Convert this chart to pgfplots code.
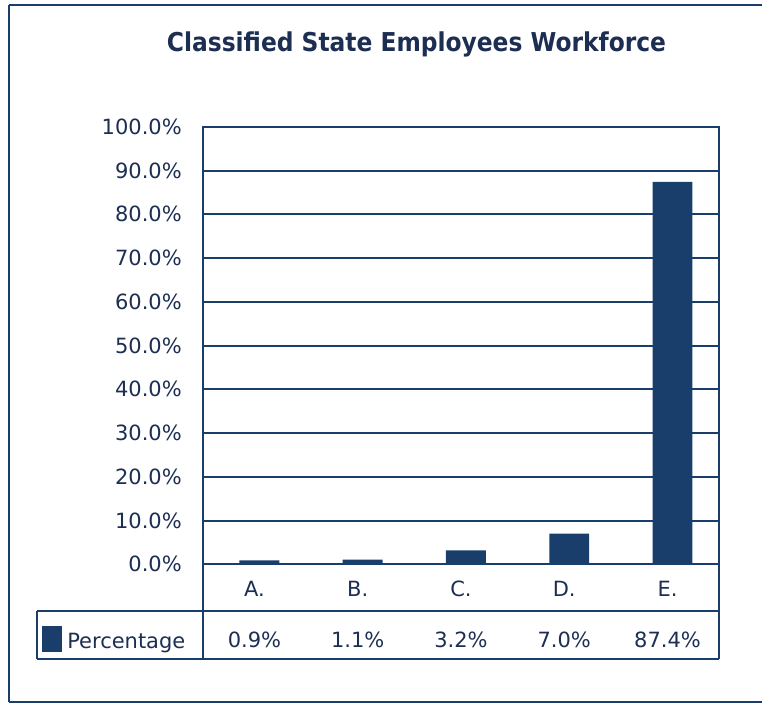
\documentclass[border=0pt]{standalone}
\usepackage{fontspec}
\setmainfont{DejaVu Sans}
\newfontfamily\titlefont{DejaVu Sans Condensed}
\usepackage{pgfplots}
\pgfplotsset{compat=1.18}
\definecolor{navy}{RGB}{26,62,108}
\definecolor{txt}{RGB}{28,46,82}
\begin{document}
\begin{tikzpicture}
\begin{axis}[
  scale only axis, width=258.5pt, height=219pt,
  xmin=-0.5, xmax=4.5, ymin=0, ymax=100,
  ytick={0,10,...,100},
  /pgf/number format/assume math mode=true,
  yticklabel={\pgfmathprintnumber[fixed,fixed zerofill,precision=1]{\tick}\%},
  ymajorgrids, grid style={navy, line width=1pt},
  axis line style={navy, line width=1pt},
  major tick length=0pt,
  xtick={0,1,2,3,4}, xticklabels={A.,B.,C.,D.,E.},
  ticklabel style={font=\fontsize{10.5}{12}\selectfont, text=txt},
  xticklabel style={anchor=base, yshift=-16pt},
  yticklabel style={xshift=-7pt},
  ybar, bar width=20pt, bar shift=2.5pt,
  clip=false,
]
\addplot[fill=navy, draw=none] coordinates {(0,0.9) (1,1.1) (2,3.2) (3,7.0) (4,87.4)};
\coordinate (SW) at (rel axis cs:0,0);
\coordinate (NE) at (rel axis cs:1,1);
\coordinate (SE) at (rel axis cs:1,0);
\coordinate (NW) at (rel axis cs:0,1);
\begin{scope}[font=\fontsize{10.5}{12}\selectfont, text=txt]
\node[anchor=base] at ([yshift=-41.5pt]axis cs:0,0) {0.9\%};
\node[anchor=base] at ([yshift=-41.5pt]axis cs:1,0) {1.1\%};
\node[anchor=base] at ([yshift=-41.5pt]axis cs:2,0) {3.2\%};
\node[anchor=base] at ([yshift=-41.5pt]axis cs:3,0) {7.0\%};
\node[anchor=base] at ([yshift=-41.5pt]axis cs:4,0) {87.4\%};
\end{scope}
\end{axis}
% table lines
\draw[navy, line width=1pt] (SW) -- ([yshift=-47.5pt]SW);
\draw[navy, line width=1pt] (SE) -- ([yshift=-47.5pt]SE);
\draw[navy, line width=1pt] ([xshift=-83pt,yshift=-23.5pt]SW) -- ([yshift=-23.5pt]SE);
\draw[navy, line width=1pt] ([xshift=-83pt,yshift=-47.5pt]SW) -- ([yshift=-47.5pt]SE);
\draw[navy, line width=1pt] ([xshift=-83pt,yshift=-23.5pt]SW) -- ([xshift=-83pt,yshift=-47.5pt]SW);
% legend key
\fill[navy] ([xshift=-80.5pt,yshift=-44pt]SW) rectangle ([xshift=-70.5pt,yshift=-31pt]SW);
\node[anchor=base west, inner sep=0pt, text=txt, font=\fontsize{10.5}{12}\selectfont] at ([xshift=-68pt,yshift=-42pt]SW) {Percentage};
% title
\node[anchor=base, inner sep=0pt, text=txt, font=\titlefont\bfseries\fontsize{13}{15}\selectfont] at ([xshift=107pt,yshift=37.5pt]NW) {Classified State Employees Workforce};
% outer frame
\draw[navy, line width=0.9pt] ([xshift=-97pt,yshift=61pt]NW) -- ([xshift=-97pt,yshift=-69pt]SW);
\draw[navy, line width=0.9pt] ([xshift=-97pt,yshift=61pt]NW) -- ([xshift=21.5pt,yshift=61pt]NE);
\draw[navy, line width=0.9pt] ([xshift=-97pt,yshift=-69pt]SW) -- ([xshift=21.5pt,yshift=-69pt]SE);
\path ([xshift=-101.5pt,yshift=-70.5pt]SW) rectangle ([xshift=21.5pt,yshift=63.5pt]NE);
\end{tikzpicture}
\end{document}
